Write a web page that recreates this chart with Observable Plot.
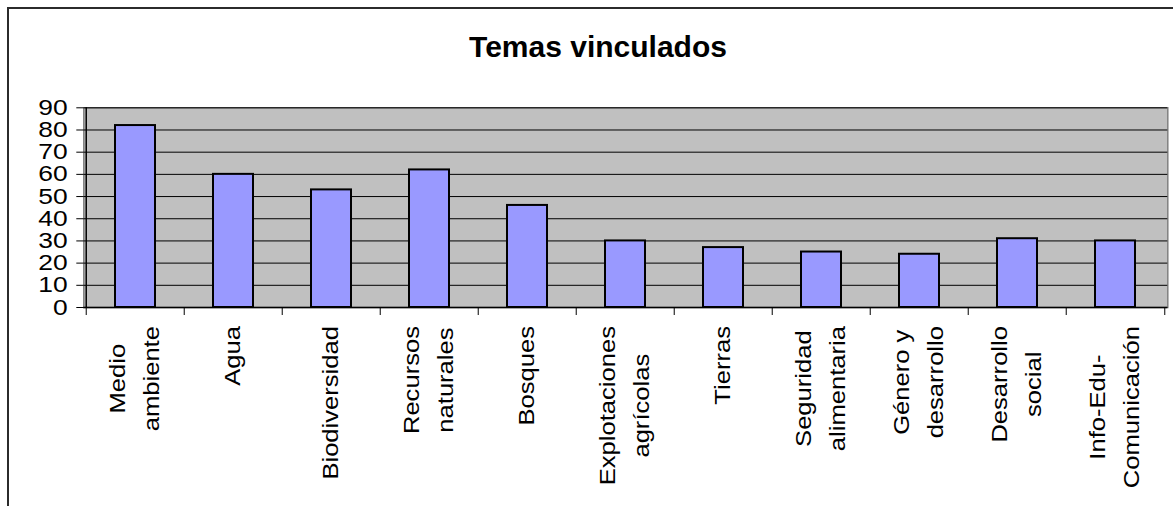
<!DOCTYPE html>
<html><head><meta charset="utf-8">
<script src="https://cdn.jsdelivr.net/npm/d3@7"></script>
<script src="https://cdn.jsdelivr.net/npm/@observablehq/plot@0.6"></script>
<style>
body{margin:0;background:#fff;}
#wrap{position:relative;width:1173px;height:506px;overflow:hidden;font-family:"Liberation Sans",Arial,sans-serif;}
#frame{position:absolute;left:7px;top:7px;width:1200px;height:600px;border-left:2px solid #2b2b2b;border-top:2px solid #2b2b2b;}
#title{position:absolute;left:598px;top:32px;transform:translateX(-50%);font-size:30px;font-weight:bold;line-height:30px;white-space:nowrap;color:#000;}
#chart{position:absolute;left:0;top:0;}
</style></head><body>
<div id="wrap"><div id="frame"></div><div id="title">Temas vinculados</div><div id="chart"></div></div>
<script>
const categories = ["Medio\nambiente","Agua","Biodiversidad","Recursos\nnaturales","Bosques","Explotaciones\nagrícolas","Tierras","Seguridad\nalimentaria","Género y\ndesarrollo","Desarrollo\nsocial","Info-Edu-\nComunicación"];
const values = [82,60,53,62,46,30,27,25,24,31,30];
const yTicks = [0,10,20,30,40,50,60,70,80,90];
const data = categories.map((c,i)=>({tema:c, n:values[i]}));

const W=1173,H=506, mL=83.3, mR=5.7, mT=107.3, mB=199;
const step = (W-mL-mR)/categories.length;

const chart = Plot.plot({
  width:W, height:H, marginLeft:mL, marginRight:mR, marginTop:mT, marginBottom:mB,
  style:{fontFamily:'"Liberation Sans", Arial, sans-serif', color:"#000", background:"transparent", overflow:"visible"},
  x:{type:"band", domain:categories, paddingInner:0.59, paddingOuter:0.295},
  y:{domain:[0,90]},
  marks:[
    Plot.frame({fill:"#c0c0c0", stroke:"#808080", strokeWidth:1.5}),
    Plot.gridY(yTicks, {stroke:"#000", strokeOpacity:1, strokeWidth:1}),
    Plot.barY(data, {x:"tema", y:"n", fill:"#9999ff", stroke:"#000", strokeWidth:2}),
    Plot.ruleX(categories.slice(0,1), {dx:-step/2, y1:0, y2:90, stroke:"#000", strokeWidth:1.5}),
    Plot.ruleY([0], {stroke:"#000", strokeWidth:1.5}),
    Plot.ruleX(categories, {dx:-step/2, y1:0, y2:0, insetBottom:-8, stroke:"#000"}),
    Plot.ruleX(categories.slice(-1), {dx:step/2, y1:0, y2:0, insetBottom:-8, stroke:"#000"}),
    Plot.axisY(yTicks, {tickSize:7, tickPadding:13, fontSize:22, label:null, stroke:"#000"}),
    Plot.axisX({tickSize:0, tickPadding:23, tickRotate:-90, fontSize:21.5, lineHeight:1.62, lineAnchor:"middle", label:null})
  ]
});
document.getElementById("chart").append(chart);

const NS = "http://www.w3.org/2000/svg";
const sr = chart.getBoundingClientRect();
function wrap(t, ax, ay, sx, sy, tx, ty) {
  const g = document.createElementNS(NS, "g");
  g.setAttribute("transform", `translate(${ax+tx},${ay+ty}) scale(${sx},${sy}) translate(${-ax},${-ay})`);
  t.parentNode.insertBefore(g, t);
  g.appendChild(t);
}
// x-axis labels: centre the lines of each label, stretch along the text, centre on band
const xs = chart.scale("x");
const gx = chart.querySelector('g[aria-label="x-axis tick label"]');
if (gx) {
  gx.setAttribute("text-anchor","middle");
  const texts = Array.from(gx.querySelectorAll("text"));
  texts.forEach((t) => {
    t.setAttribute("text-anchor","middle");
    const spans = t.querySelectorAll("tspan");
    if (spans.length) {
      let max = 0;
      spans.forEach(s => { max = Math.max(max, s.getComputedTextLength()); });
      spans.forEach(s => s.setAttribute("x", -max/2));
    } else {
      t.setAttribute("x", -t.getComputedTextLength()/2);
    }
  });
  texts.forEach((t) => {
    const bb = t.getBoundingClientRect();
    const cx = bb.left - sr.left + bb.width/2;
    const top = bb.top - sr.top;
    const label = t.textContent;
    const cat = categories.find(c => c.replace(/\n/g,"") === label) ?? null;
    const target = cat != null ? xs.apply(cat) + xs.bandwidth/2 : cx;
    wrap(t, cx, top, 1, 1.19, target - cx, 0);
  });
}
// y-axis labels: slightly wider glyphs
const gy = chart.querySelector('g[aria-label="y-axis tick label"]');
if (gy) {
  Array.from(gy.querySelectorAll("text")).forEach(t => {
    const bb = t.getBoundingClientRect();
    wrap(t, bb.right - sr.left, bb.top - sr.top + bb.height/2, 1.2, 1, 0, 0);
  });
}
</script>
</body></html>
